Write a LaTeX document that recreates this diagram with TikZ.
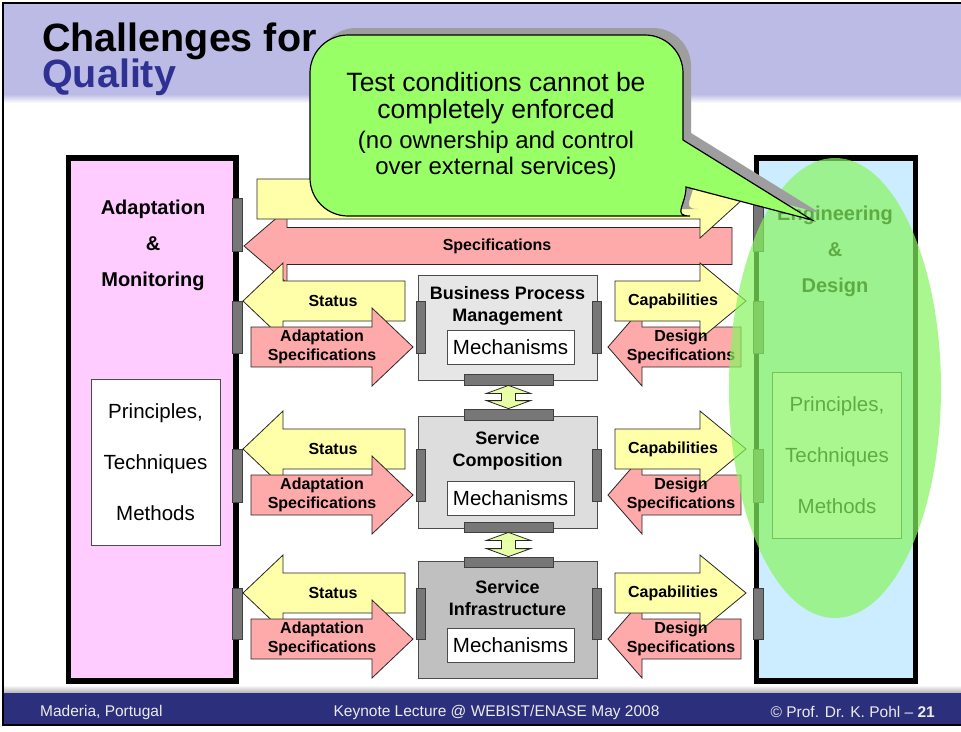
\documentclass[tikz,border=0pt]{standalone}
\usepackage{fontspec}
\setmainfont{Liberation Sans}
\usetikzlibrary{calc,positioning}

\definecolor{bandblue}{HTML}{BBBBE6}
\definecolor{titleblue}{HTML}{2E3192}
\definecolor{footblue}{HTML}{2C2F7C}
\definecolor{amfill}{HTML}{FFCCFF}
\definecolor{edfill}{HTML}{CCECFF}
\definecolor{statusfill}{HTML}{FFFFAA}
\definecolor{specfill}{HTML}{FFAAAA}
\definecolor{portfill}{HTML}{777777}
\definecolor{bpmfill}{HTML}{E6E6E6}
\definecolor{scfill}{HTML}{DDDDDD}
\definecolor{sifill}{HTML}{C0C0C0}
\definecolor{linkfill}{HTML}{E8FFA8}
\definecolor{calloutfill}{HTML}{99FF66}
\definecolor{hilite}{HTML}{88F560}

\newcommand{\blockarrow}[7]{%
  \filldraw[#1] (#2,#5-#6) -- (#3,#5-#6) -- (#3,#5-#7) -- (#4,#5) -- (#3,#5+#7) -- (#3,#5+#6) -- (#2,#5+#6) -- cycle;}
\newcommand{\linkarrow}[2]{%
  \filldraw[linkarrow] let \p1=(#1.south), \p2=(#2.north) in
    (\p1) -- (\x1+22pt,\y1-8pt) -- (\x1+7pt,\y1-8pt) -- (\x1+7pt,\y2+8pt) -- (\x1+22pt,\y2+8pt)
    -- (\x1,\y2) -- (\x1-22pt,\y2+8pt) -- (\x1-7pt,\y2+8pt) -- (\x1-7pt,\y1-8pt) -- (\x1-22pt,\y1-8pt) -- cycle;}
\newcommand{\calloutpath}{(683,140) [rounded corners=38] -- (683,35) -- (310,35) -- (310,216) -- (652,216) [sharp corners] .. controls (672,216) and (686,205) .. (686,187) -- (812,220) -- cycle}

\begin{document}
\begin{tikzpicture}[x=1pt,y=-1pt,
  port/.style={draw=black!75,fill=portfill,line width=0.8,inner sep=0},
  colbox/.style={draw=black,line width=5.5,inner sep=0},
  mbox/.style={draw=black!70,line width=1,inner sep=0,minimum width=179},
  mech/.style={draw=black!70,fill=white,line width=0.8,inner sep=0,minimum width=127,minimum height=34,font=\fontsize{20.5}{24}\selectfont},
  pbox/.style={draw=black!70,fill=white,line width=0.8,inner sep=0,minimum width=129,minimum height=166,align=center,font=\fontsize{20.5}{51}\selectfont},
  coltitle/.style={align=center,inner sep=0,font=\bfseries\fontsize{20}{36}\selectfont},
  boxtitle/.style={align=center,inner sep=0,font=\bfseries\fontsize{18}{22}\selectfont},
  arrowlabel/.style={align=center,inner sep=0,font=\bfseries\fontsize{16}{19}\selectfont},
  statusarrow/.style={fill=statusfill,draw=black!85,line width=0.8},
  specarrow/.style={fill=specfill,draw=black!85,line width=0.8},
  linkarrow/.style={fill=linkfill,draw=black!85,line width=0.8},
  foot/.style={inner sep=0,text=black!8,font=\fontsize{15.5}{18}\selectfont}]
\useasboundingbox (0,0) rectangle (961,731);
\clip (0,0) rectangle (961,731);
\fill[white] (0,0) rectangle (961,731);

\fill[bandblue] (4,4) rectangle (961,94);
\shade[top color=bandblue,bottom color=white] (4,94) rectangle (961,103);
\shade[top color=white,bottom color=black!30] (4,685) rectangle (961,693);
\fill[footblue] (4,693) rectangle (961,724);
\draw[line width=2.5] (3,3) rectangle (990,725);

\node[anchor=base west,inner sep=0,font=\bfseries\fontsize{39.5}{40}\selectfont] (title1) at (42,51) {Challenges for};
\node[anchor=base west,inner sep=0,text=titleblue,font=\bfseries\fontsize{39.5}{40}\selectfont] (title2) at (42,87) {Quality};

\node[foot,anchor=west] (place) at (40,712) {Maderia, Portugal};
\node[foot] (event) at (496.5,712) {Keynote Lecture @ WEBIST/ENASE May 2008};
\node[foot,anchor=east] (author) at (935,712) {© Prof. Dr. K. Pohl – \textbf{21}};

\node[colbox,fill=amfill,minimum width=167.5,minimum height=523] (am) at (152.25,419.5) {};
\node[colbox,fill=edfill,minimum width=159,minimum height=523] (ed) at (836,419.5) {};
\node[coltitle] (amtitle) at (153,245) {Adaptation\\\&\\Monitoring};
\node[coltitle] (edtitle) at (835,251) {Engineering\\\&\\Design};
\node[pbox] (amptm) at (155.5,462) {Principles,\\Techniques\\Methods};
\node[pbox] (edptm) at (837,455) {Principles,\\Techniques\\Methods};

\blockarrow{specarrow}{732}{287}{244}{246}{18.5}{37}
\blockarrow{statusarrow}{257}{700}{743}{199}{20}{39}
\node[arrowlabel] (spec) at (497,246) {Specifications};

\foreach \r/\k in {301/1,449/2,593/3}{
  \blockarrow{statusarrow}{405}{283}{243}{\r}{20}{38}
  \blockarrow{specarrow}{251}{372}{413}{\r+46}{20}{39}
  \blockarrow{specarrow}{741}{642}{608}{\r+46}{20}{39}
  \blockarrow{statusarrow}{615}{700}{746}{\r}{20}{38}
  \node[arrowlabel] (status\k) at (333,\r) {Status};
  \node[arrowlabel] (adapt\k) at (322,\r+46) {Adaptation\\Specifications};
  \node[arrowlabel] (capab\k) at (673,\r) {Capabilities};
  \node[arrowlabel] (design\k) at (681,\r+46) {Design\\Specifications};
}

\node[port,minimum width=10,minimum height=53] (amp1) at (237,224.5) {};
\node[port,minimum width=10,minimum height=52] (amp2) at (237,327) {};
\node[port,minimum width=10,minimum height=53] (amp3) at (237,475.5) {};
\node[port,minimum width=10,minimum height=51] (amp4) at (237,613.5) {};
\node[port,minimum width=10,minimum height=53] (edp1) at (758,224.5) {};
\node[port,minimum width=10,minimum height=52] (edp2) at (758,327) {};
\node[port,minimum width=10,minimum height=53] (edp3) at (758,475.5) {};
\node[port,minimum width=10,minimum height=51] (edp4) at (758,613.5) {};

\node[mbox,fill=bpmfill,minimum height=105] (bpm) at (507.5,327.5) {};
\node[mbox,fill=scfill,minimum height=112] (sc) at (507.5,472) {};
\node[mbox,fill=sifill,minimum height=117] (si) at (507.5,619.5) {};
\node[boxtitle] (bpmtext) at (507.5,306) {Business Process\\Management};
\node[boxtitle] (sctext) at (507.5,450.5) {Service\\Composition};
\node[boxtitle] (sitext) at (507.5,598) {Service\\Infrastructure};
\node[mech] (bpmmech) at (510.5,347) {Mechanisms};
\node[mech] (scmech) at (510.5,498) {Mechanisms};
\node[mech] (simech) at (510.5,645.5) {Mechanisms};

\node[port,minimum width=9,minimum height=52] (bpmwest) at (420.5,327) {};
\node[port,minimum width=9,minimum height=52] (bpmeast) at (596.5,327) {};
\node[port,minimum width=89,minimum height=11] (bpmsouth) at (508.5,379.5) {};
\node[port,minimum width=9,minimum height=52] (scwest) at (420.5,475) {};
\node[port,minimum width=9,minimum height=52] (sceast) at (596.5,475) {};
\node[port,minimum width=89,minimum height=11] (scnorth) at (508.5,414.5) {};
\node[port,minimum width=89,minimum height=10] (scsouth) at (508.5,527) {};
\node[port,minimum width=9,minimum height=51] (siwest) at (420.5,613.5) {};
\node[port,minimum width=9,minimum height=51] (sieast) at (596.5,613.5) {};
\node[port,minimum width=89,minimum height=10] (sinorth) at (508.5,562) {};

\linkarrow{bpmsouth}{scnorth}
\linkarrow{scsouth}{sinorth}

\fill[hilite,opacity=0.7] (835,388) ellipse [x radius=106,y radius=230];

\fill[black!38,shift={(8,-7)}] \calloutpath;
\filldraw[fill=calloutfill,draw=black,line width=1.2] \calloutpath;
\node[align=center,inner sep=0,font=\fontsize{26.5}{27.5}\selectfont] (testcond) at (496,98) {Test conditions cannot be\\completely enforced};
\node[align=center,inner sep=0,font=\fontsize{24}{26}\selectfont] (ownership) at (496,155) {(no ownership and control\\over external services)};
\end{tikzpicture}
\end{document}
